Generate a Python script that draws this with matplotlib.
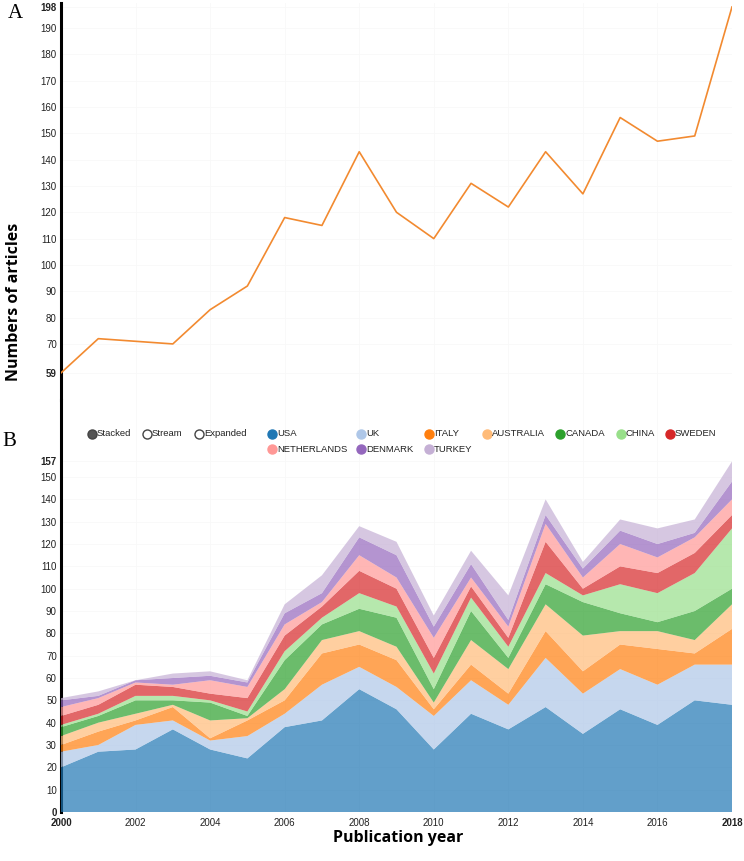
import matplotlib.pyplot as plt

W, H = 744, 861

years = list(range(2000, 2019))

# panel A: total articles per year
totals = [59, 72, 71, 70, 83, 92, 118, 115, 143, 120, 110, 131, 122, 143, 127, 156, 147, 149, 198]

# panel B: articles per country, stacked in this order
countries = ["USA", "UK", "ITALY", "AUSTRALIA", "CANADA", "CHINA", "SWEDEN",
             "NETHERLANDS", "DENMARK", "TURKEY"]
usa = [20, 27, 28, 37, 28, 24, 38, 41, 55, 46, 28, 44, 37, 47, 35, 46, 39, 50, 48]
uk = [7, 3, 11, 4, 4, 10, 6, 16, 10, 10, 15, 15, 11, 22, 18, 18, 18, 16, 18]
italy = [3, 6, 2, 6, 1, 7, 6, 14, 10, 12, 3, 7, 5, 12, 10, 11, 16, 5, 16]
australia = [4, 4, 3, 1, 8, 1, 5, 6, 6, 6, 3, 11, 11, 12, 16, 6, 8, 6, 11]
canada = [4, 3, 6, 2, 8, 1, 13, 7, 10, 13, 6, 13, 5, 9, 15, 8, 4, 13, 7]
china = [1, 1, 2, 2, 1, 2, 4, 3, 7, 5, 7, 6, 5, 5, 3, 13, 13, 17, 27]
sweden = [4, 4, 5, 4, 3, 6, 7, 5, 10, 8, 7, 5, 4, 14, 3, 8, 9, 9, 6]
netherlands = [4, 3, 1, 1, 6, 5, 5, 2, 7, 5, 9, 4, 5, 8, 5, 10, 7, 7, 7]
denmark = [3, 1, 1, 3, 2, 2, 5, 4, 8, 10, 5, 6, 3, 4, 4, 6, 6, 2, 8]
turkey = [1, 2, 0, 2, 2, 1, 4, 8, 5, 6, 5, 6, 11, 7, 3, 5, 7, 6, 9]
series = [usa, uk, italy, australia, canada, china, sweden, netherlands, denmark, turkey]

colors = ["#1f77b4", "#aec7e8", "#ff7f0e", "#ffbb78", "#2ca02c", "#98df8a",
          "#d62728", "#ff9896", "#9467bd", "#c5b0d5"]

top_ticks = [59, 70, 80, 90, 100, 110, 120, 130, 140, 150, 160, 170, 180, 190, 198]
bot_ticks = [0, 10, 20, 30, 40, 50, 60, 70, 80, 90, 100, 110, 120, 130, 140, 150, 157]
x_ticks = list(range(2000, 2019, 2))

plt.rcParams['font.family'] = ['Liberation Sans', 'DejaVu Sans']

fig = plt.figure(figsize=(W / 100, H / 100), dpi=100)


def px_axes(l, t, r, b):
    return fig.add_axes([l / W, 1 - b / H, (r - l) / W, (b - t) / H])


def style(ax):
    for s in ['top', 'right', 'bottom']:
        ax.spines[s].set_visible(False)
    ax.spines['left'].set_linewidth(2.2)
    ax.spines['left'].set_color('black')
    ax.tick_params(length=0, labelsize=7, pad=3, colors='#222222')
    ax.grid(True, color='#f8f8f8', lw=0.6)
    ax.set_axisbelow(True)
    ax.set_xlim(2000, 2018)


# ---- panel A
ax1 = px_axes(61, 3, 732, 400)
style(ax1)
ax1.plot(years, totals, color='#f28a30', lw=1.2, zorder=3)
ax1.set_ylim(48.7, 199.5)
ax1.set_yticks(top_ticks)
ax1.set_xticks(x_ticks)
ax1.tick_params(axis='x', labelbottom=False)
for lab in ax1.get_yticklabels():
    if lab.get_text() in ('59', '198'):
        lab.set_fontweight('bold')

# ---- panel B
ax2 = px_axes(61, 400, 732, 812)
style(ax2)
ax2.stackplot(years, *series, colors=colors, alpha=0.7, lw=0, zorder=3)
ax2.set_ylim(0, 184.5)
ax2.set_yticks(bot_ticks)
ax2.set_xticks(x_ticks)
ax2.tick_params(axis='x', pad=4)
for lab in ax2.get_yticklabels():
    if lab.get_text() in ('0', '157'):
        lab.set_fontweight('bold')
for lab in ax2.get_xticklabels():
    if lab.get_text() in ('2000', '2018'):
        lab.set_fontweight('bold')

# ---- overlay in pixel coordinates for labels and legend
lax = fig.add_axes([0, 0, 1, 1], zorder=10)
lax.set_xlim(0, W)
lax.set_ylim(H, 0)
lax.axis('off')

lax.text(15, 14, "A", fontsize=15, family='Liberation Serif', ha='center', va='center')
lax.text(9, 441, "B", fontsize=15, family='Liberation Serif', ha='center', va='center')
lax.text(14, 302, "Numbers of articles", fontsize=11.5, family='Open Sans',
         weight='bold', rotation=90, ha='center', va='center')
lax.text(398, 838, "Publication year", fontsize=11.5, family='Open Sans',
         weight='bold', ha='center', va='center')

# mode switches
modes = [("Stacked", 92, True), ("Stream", 147, False), ("Expanded", 199, False)]
for name, x, filled in modes:
    lax.plot(x, 434, 'o', ms=6.5, mfc='#555555' if filled else 'white',
             mec='#444444', mew=1.0)
    lax.text(x + 5, 434, name, fontsize=6.8, va='center', ha='left', color='#222222')

# country legend
leg_x = [272, 361, 429, 487, 560, 621, 670, 272, 361, 429]
leg_y = [434] * 7 + [449] * 3
for name, c, x, y in zip(countries, colors, leg_x, leg_y):
    lax.plot(x, y, 'o', ms=6.5, mfc=c, mec=c)
    lax.text(x + 5, y, name, fontsize=6.8, va='center', ha='left', color='#222222')

fig.savefig('out.png', dpi=100)
